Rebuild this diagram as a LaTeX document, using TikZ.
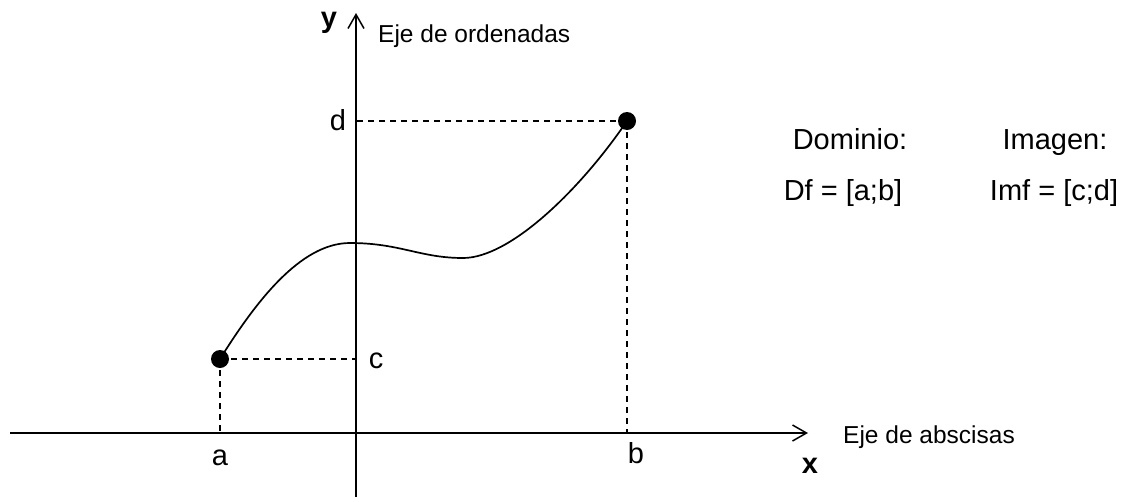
\documentclass[tikz,border=0pt]{standalone}
\usepackage{fontspec}
\setmainfont{Liberation Sans}
\usetikzlibrary{arrows.meta}
\begin{document}
\begin{tikzpicture}[x=1pt,y=-1pt,
  axis/.style={line width=1.7pt,-{Straight Barb[length=14pt,width=16pt,line width=1.5pt]}},
  guide/.style={line width=1.6pt,dash pattern=on 6pt off 5pt},
  curve/.style={line width=1.7pt},
  dot/.style={circle,fill=black,inner sep=0pt,minimum size=18pt},
  lbl/.style={anchor=base,inner sep=0pt,font=\fontsize{29}{34}\selectfont},
  small/.style={anchor=base west,inner sep=0pt,font=\fontsize{24.5}{28}\selectfont},
  axname/.style={anchor=base,inner sep=0pt,font=\fontsize{29}{34}\selectfont\bfseries}]
\useasboundingbox (0,0) rectangle (1122,501);
% axes
\coordinate (xl) at (10,433);
\coordinate (xr) at (808,433);
\coordinate (yb) at (356,497);
\coordinate (yt) at (356,13);
\draw[axis] (xl) -- (xr);
\draw[axis] (yb) -- (yt);
% points
\node[dot] (A) at (220,359) {};
\node[dot] (B) at (627,121) {};
\coordinate (ac) at (356,359);
\coordinate (ax) at (220,433);
\coordinate (bd) at (356,121);
\coordinate (bx) at (627,433);
\draw[guide] (A.center) -- (ac);
\draw[guide] (A.center) -- (ax);
\draw[guide] (B.center) -- (bd);
\draw[guide] (B.center) -- (bx);
% curve
\coordinate (m1) at (350,243);
\coordinate (m2) at (463,258);
\draw[curve] (A.center) .. controls (255,303) and (300,243) .. (m1)
  .. controls (400,243) and (420,258) .. (m2)
  .. controls (510,258) and (580,190) .. (B.center);
% labels
\node[axname] (ylab) at (329,27) {y};
\node[axname] (xlab) at (810,473) {x};
\node[small] (ord) at (378,42) {Eje de ordenadas};
\node[small] (abs) at (843,443) {Eje de abscisas};
\node[lbl] (la) at (220,465) {a};
\node[lbl] (lb) at (636,463) {b};
\node[lbl] (lc) at (376,368) {c};
\node[lbl] (ld) at (338,130) {d};
\node[lbl] (dom) at (850,149) {Dominio:};
\node[lbl] (img) at (1055,149) {Imagen:};
\node[lbl] (df) at (843,200) {Df = [a;b]};
\node[lbl] (imf) at (1054,200) {Imf = [c;d]};
\end{tikzpicture}
\end{document}
